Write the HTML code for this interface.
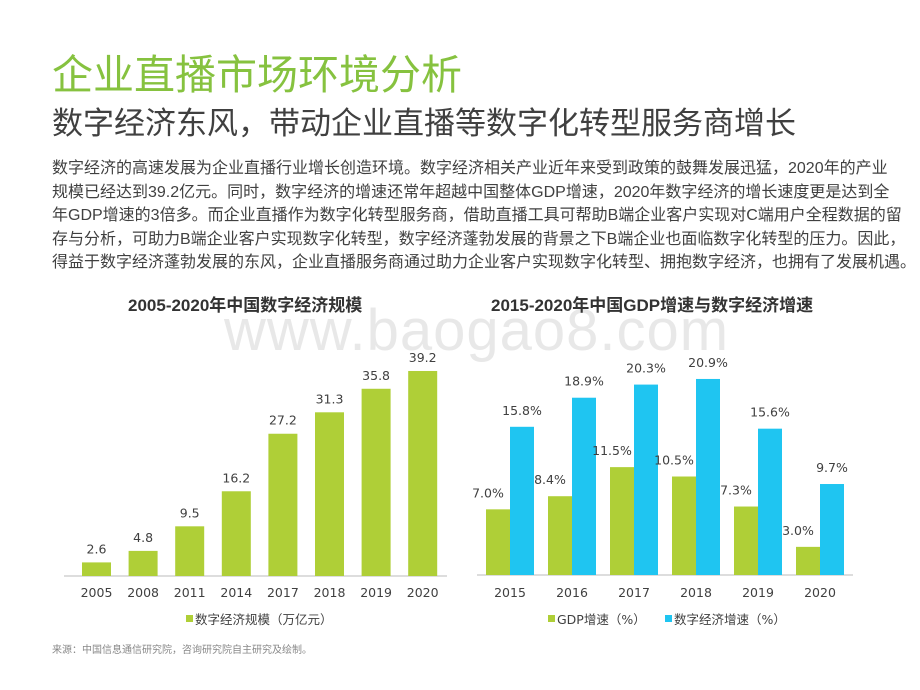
<!DOCTYPE html>
<html><head><meta charset="utf-8">
<style>
body{margin:0;width:920px;height:690px;background:#fff;position:relative;overflow:hidden;font-family:"Liberation Sans","Noto Sans CJK SC",sans-serif;}
.a{position:absolute;white-space:nowrap;}
#title{left:52px;top:50px;font-size:41px;color:#86c23f;line-height:50px;}
#sub{left:52px;top:104px;font-size:31px;color:#404040;line-height:40px;}
#para{left:52px;top:157px;font-size:16px;color:#404040;line-height:23.6px;}
.ct{font-size:17px;font-weight:bold;color:#333;top:291px;}
#wm{left:224px;top:297px;font-size:58px;color:#e8e8e8;letter-spacing:1px;}
#src{left:52px;top:641px;font-size:10px;color:#888;}
svg text{font-family:"DejaVu Sans","Noto Sans CJK SC",sans-serif;}
</style></head><body>
<div class="a" id="wm">www.baogao8.com</div>
<div class="a" id="title">企业直播市场环境分析</div>
<div class="a" id="sub">数字经济东风，带动企业直播等数字化转型服务商增长</div>
<div class="a" id="para">数字经济的高速发展为企业直播行业增长创造环境。数字经济相关产业近年来受到政策的鼓舞发展迅猛，2020年的产业<br>规模已经达到39.2亿元。同时，数字经济的增速还常年超越中国整体GDP增速，2020年数字经济的增长速度更是达到全<br>年GDP增速的3倍多。而企业直播作为数字化转型服务商，借助直播工具可帮助B端企业客户实现对C端用户全程数据的留<br>存与分析，可助力B端企业客户实现数字化转型，数字经济蓬勃发展的背景之下B端企业也面临数字化转型的压力。因此，<br>得益于数字经济蓬勃发展的东风，企业直播服务商通过助力企业客户实现数字化转型、拥抱数字经济，也拥有了发展机遇。</div>
<div class="a ct" style="left:128px">2005-2020年中国数字经济规模</div>
<div class="a ct" style="left:491px">2015-2020年中国GDP增速与数字经济增速</div>
<svg id="chart" width="920" height="690" style="position:absolute;left:0;top:0"></svg>
<div class="a" id="src">来源：中国信息通信研究院，咨询研究院自主研究及绘制。</div>
<script>
const leftCats=["2005","2008","2011","2014","2017","2018","2019","2020"];
const leftVals=[2.6,4.8,9.5,16.2,27.2,31.3,35.8,39.2];
const rightCats=["2015","2016","2017","2018","2019","2020"];
const gdpVals=[7.0,8.4,11.5,10.5,7.3,3.0];
const digVals=[15.8,18.9,20.3,20.9,15.6,9.7];
const svg=document.getElementById('chart');
const NS='http://www.w3.org/2000/svg';
function mk(t,at,txt){const e=document.createElementNS(NS,t);for(const k in at)e.setAttribute(k,at[k]);if(txt!=null)e.textContent=txt;svg.appendChild(e);return e;}
const G='#afcf37',B='#1fc5f1';
const lBase=576,lScale=5.23,lX0=82,lStep=46.6,lW=29;
const ly=v=>lBase-v*lScale;
let e=mk('line',{x1:64,x2:447,y1:lBase,y2:lBase,stroke:'#bbb','stroke-width':1});

leftVals.forEach((v,i)=>{const x=lX0+i*lStep;
 let r=mk('rect',{x:x,y:ly(v),width:lW,height:lBase-ly(v),fill:G});
 
 let t=mk('text',{x:x+lW/2,y:ly(v)-9,'text-anchor':'middle','font-size':12.5,fill:'#404040'},v.toFixed(1));
 
 let c=mk('text',{x:x+lW/2,y:597,'text-anchor':'middle','font-size':12.5,fill:'#404040'},leftCats[i]);
 
});
e=mk('rect',{x:186,y:615,width:7,height:7,fill:G});
e=mk('text',{x:195,y:624,'font-size':12.5,fill:'#404040'},'数字经济规模（万亿元）');
const rBase=575,rScale=9.38,rX0=486,rStep=62,rW=24;
const ry=v=>rBase-v*rScale;
e=mk('line',{x1:477,x2:853,y1:rBase,y2:rBase,stroke:'#bbb','stroke-width':1});

rightCats.forEach((c,i)=>{const x=rX0+i*rStep;
 [[gdpVals[i],G,x,'gdp'],[digVals[i],B,x+rW,'digital']].forEach(([v,col,bx,n])=>{
  let r=mk('rect',{x:bx,y:ry(v),width:rW,height:rBase-ry(v),fill:col});
  
  let t=mk('text',{x:bx+rW/2-(n=='gdp'?10:0),y:ry(v)-12,'text-anchor':'middle','font-size':12.5,fill:'#404040'},v.toFixed(1)+'%');
  
 });
 let l=mk('text',{x:x+rW,y:597,'text-anchor':'middle','font-size':12.5,fill:'#404040'},c);
 
});
e=mk('rect',{x:548,y:615,width:7,height:7,fill:G});
e=mk('text',{x:557,y:624,'font-size':12.5,fill:'#404040'},'GDP增速（%）');
e=mk('rect',{x:665,y:615,width:7,height:7,fill:B});
e=mk('text',{x:674,y:624,'font-size':12.5,fill:'#404040'},'数字经济增速（%）');
</script>
</body></html>
